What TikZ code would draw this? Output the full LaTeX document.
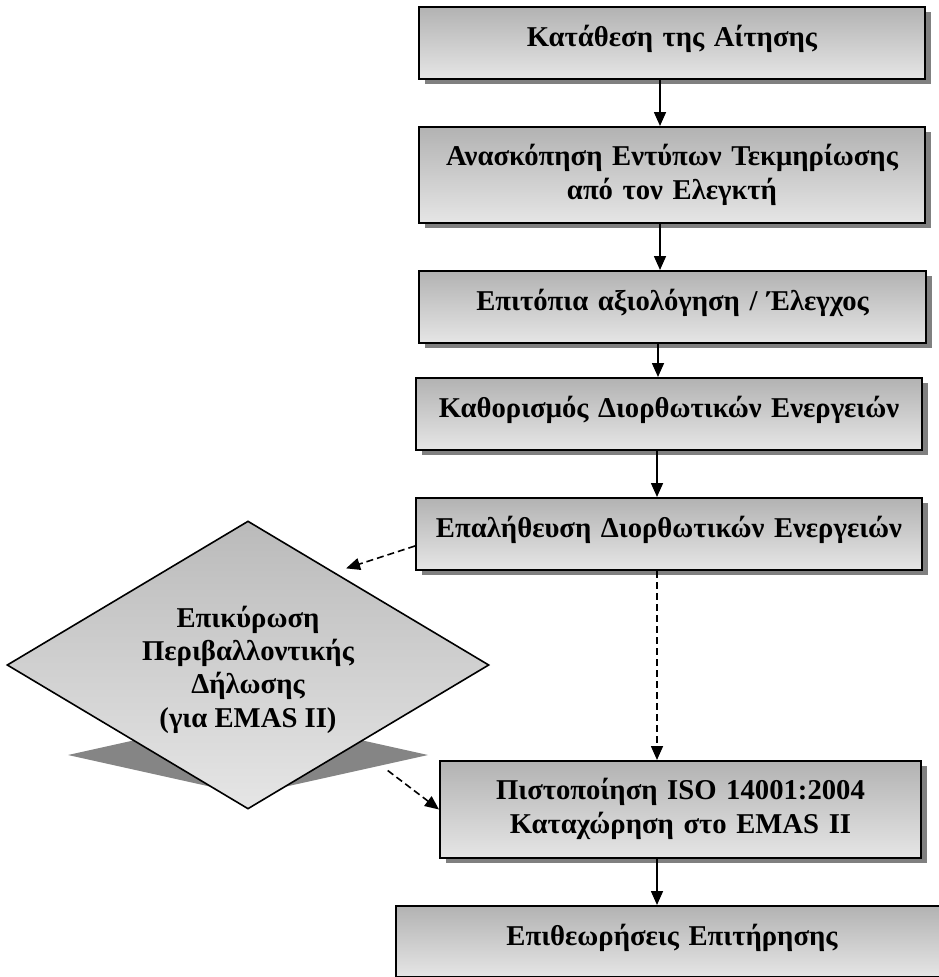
\documentclass[tikz,border=0pt]{standalone}
\usepackage{fontspec}
\setmainfont{Liberation Serif}
\usetikzlibrary{arrows.meta,shapes.geometric,shadows}
\begin{document}
\begin{tikzpicture}[x=1pt,y=-1pt,
  font=\bfseries\fontsize{28.7}{34}\selectfont,
  box/.style={draw, line width=2pt, anchor=north west, inner sep=0pt,
    align=center, top color=black!30, bottom color=black!10,
    drop shadow={shadow xshift=6pt, shadow yshift=-5pt, fill=black!50, opacity=1}},
  dia/.style={shape=diamond, draw, line width=1.6pt, inner sep=0pt, aspect=1.67,
    minimum width=482pt, minimum height=288pt, align=center,
    top color=black!27, bottom color=black!10,
    font=\bfseries\fontsize{28.7}{33.3}\selectfont},
  arr/.style={line width=1.6pt, -{Triangle[length=14pt,width=12pt]}},
  dasharr/.style={arr, dash pattern=on 7pt off 4pt}
]
\useasboundingbox (0,0) rectangle (939,977);
\clip (0,0) rectangle (939,977);

% shadow of the diamond
\fill[black!48] (68,755) -- (248,715) -- (428,755) -- (248,795) -- cycle;

\node[dia, text height=130pt, text depth=6pt] (dia) at (248,665)
  {Επικύρωση\\Περιβαλλοντικής\\Δήλωσης\\(για EMAS II)};

\node[box, text width=506pt, text height=39pt, text depth=33pt] (b1) at (418,6)
  {Κατάθεση της Αίτησης};
\node[box, text width=506pt, text height=38pt, text depth=58pt] (b2) at (418,126)
  {Ανασκόπηση Εντύπων Τεκμηρίωσης\\από τον Ελεγκτή};
\node[box, text width=507pt, text height=39pt, text depth=33pt] (b3) at (418,270)
  {Επιτόπια αξιολόγηση / Έλεγχος};
\node[box, text width=506pt, text height=39pt, text depth=33pt] (b4) at (415,377)
  {Καθορισμός Διορθωτικών Ενεργειών};
\node[box, text width=506pt, text height=39pt, text depth=33pt] (b5) at (415,497)
  {Επαλήθευση Διορθωτικών Ενεργειών};
\node[box, text width=481pt, text height=38pt, text depth=59pt] (b6) at (439,760)
  {Πιστοποίηση ISO 14001:2004\\Καταχώρηση στο EMAS II};
\node[box, text width=552pt, text height=39pt, text depth=32pt] (b7) at (395,905)
  {Επιθεωρήσεις Επιτήρησης};

\draw[arr] ([xshift=-12pt]b1.south) -- ([xshift=-12pt]b1.south |- b2.north);
\draw[arr] ([xshift=-12pt]b2.south) -- ([xshift=-12pt]b2.south |- b3.north);
\draw[arr] ([xshift=-14.5pt]b3.south) -- ([xshift=-14.5pt]b3.south |- b4.north);
\draw[arr] ([xshift=-12pt]b4.south) -- ([xshift=-12pt]b4.south |- b5.north);
\draw[dasharr] ([xshift=-12pt]b5.south) -- ([xshift=-12pt]b5.south |- b6.north);
\draw[arr] ([xshift=-23.5pt]b6.south) -- ([xshift=-23.5pt]b6.south |- b7.north);

\draw[dasharr, shorten >=12pt] ([yshift=-12pt]b5.west) -- (dia.47.6);
\draw[dasharr, shorten <=41pt] (dia.-37.6) -- (b6.west);
\end{tikzpicture}
\end{document}
